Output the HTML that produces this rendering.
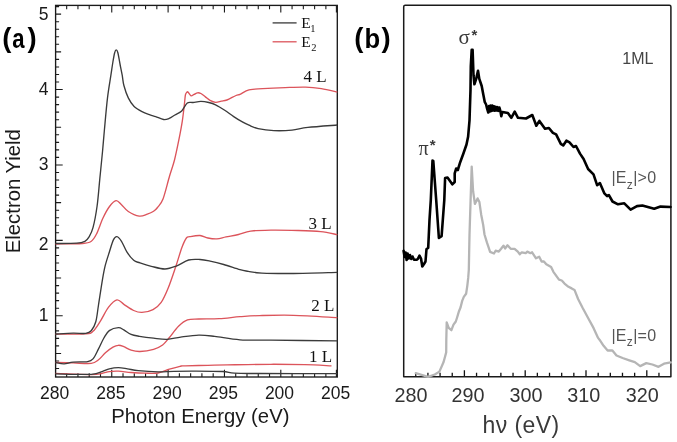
<!DOCTYPE html><html><head><meta charset="utf-8"><style>html,body{margin:0;padding:0;background:#fff;}body{width:677px;height:442px;overflow:hidden;}svg{display:block;filter:blur(0.35px);}text{font-family:"Liberation Sans",sans-serif;}</style></head><body>
<svg width="677" height="442" viewBox="0 0 677 442">
<rect width="677" height="442" fill="#fff"/>
<path d="M55.60,368.53H59.10 M55.60,360.99H59.10 M55.60,353.45H61.10 M55.60,345.91H59.10 M55.60,338.37H59.10 M55.60,330.83H59.10 M55.60,323.29H59.10 M55.60,315.75H62.70 M55.60,308.21H59.10 M55.60,300.67H59.10 M55.60,293.13H59.10 M55.60,285.59H59.10 M55.60,278.05H61.10 M55.60,270.51H59.10 M55.60,262.97H59.10 M55.60,255.43H59.10 M55.60,247.89H59.10 M55.60,240.35H62.70 M55.60,232.81H59.10 M55.60,225.27H59.10 M55.60,217.73H59.10 M55.60,210.19H59.10 M55.60,202.65H61.10 M55.60,195.11H59.10 M55.60,187.57H59.10 M55.60,180.03H59.10 M55.60,172.49H59.10 M55.60,164.95H62.70 M55.60,157.41H59.10 M55.60,149.87H59.10 M55.60,142.33H59.10 M55.60,134.79H59.10 M55.60,127.25H61.10 M55.60,119.71H59.10 M55.60,112.17H59.10 M55.60,104.63H59.10 M55.60,97.09H59.10 M55.60,89.55H62.70 M55.60,82.01H59.10 M55.60,74.47H59.10 M55.60,66.93H59.10 M55.60,59.39H59.10 M55.60,51.85H61.10 M55.60,44.31H59.10 M55.60,36.77H59.10 M55.60,29.23H59.10 M55.60,21.69H59.10 M55.60,14.15H61.10 M55.60,6.61H59.10 M66.67,5.40V9.20 M66.67,377.00V373.20 M77.94,5.40V9.20 M77.94,377.00V373.20 M89.21,5.40V9.20 M89.21,377.00V373.20 M100.48,5.40V9.20 M100.48,377.00V373.20 M111.75,5.40V12.60 M111.75,377.00V369.80 M123.02,5.40V9.20 M123.02,377.00V373.20 M134.29,5.40V9.20 M134.29,377.00V373.20 M145.56,5.40V9.20 M145.56,377.00V373.20 M156.83,5.40V9.20 M156.83,377.00V373.20 M168.10,5.40V12.60 M168.10,377.00V369.80 M179.37,5.40V9.20 M179.37,377.00V373.20 M190.64,5.40V9.20 M190.64,377.00V373.20 M201.91,5.40V9.20 M201.91,377.00V373.20 M213.18,5.40V9.20 M213.18,377.00V373.20 M224.45,5.40V12.60 M224.45,377.00V369.80 M235.72,5.40V9.20 M235.72,377.00V373.20 M246.99,5.40V9.20 M246.99,377.00V373.20 M258.26,5.40V9.20 M258.26,377.00V373.20 M269.53,5.40V9.20 M269.53,377.00V373.20 M280.80,5.40V12.60 M280.80,377.00V369.80 M292.07,5.40V9.20 M292.07,377.00V373.20 M303.34,5.40V9.20 M303.34,377.00V373.20 M314.61,5.40V9.20 M314.61,377.00V373.20 M325.88,5.40V9.20 M325.88,377.00V373.20 M336.40,5.40V12.60 M336.40,377.00V369.80" stroke="#1a1a1a" stroke-width="1.1" fill="none"/>
<rect x="55.60" y="5.40" width="281.70" height="371.60" stroke="#1a1a1a" stroke-width="1.35" fill="none"/>
<path d="M55.60,373.40 C61.53,373.60 83.45,374.60 91.20,374.60 C98.95,374.60 99.08,373.90 102.10,373.40 C105.12,372.90 106.58,371.97 109.30,371.60 C112.02,371.23 114.77,371.05 118.40,371.20 C122.03,371.35 126.67,372.17 131.10,372.50 C135.53,372.83 140.50,373.12 145.00,373.20 C149.50,373.28 154.03,373.67 158.10,373.00 C162.17,372.33 165.75,370.32 169.40,369.20 C173.05,368.08 177.37,366.87 180.00,366.30 C182.63,365.73 180.55,365.97 185.20,365.80 C189.85,365.63 200.88,365.45 207.90,365.30 C214.92,365.15 216.80,365.07 227.30,364.90 C237.80,364.73 257.97,364.33 270.90,364.30 C283.83,364.27 294.80,364.45 304.90,364.70 C315.00,364.95 327.07,365.62 331.50,365.80" stroke="#dc545b" stroke-width="1.35" fill="none" stroke-linejoin="round"/>
<path d="M55.60,373.90 C61.53,373.97 83.45,374.68 91.20,374.30 C98.95,373.92 99.08,372.52 102.10,371.60 C105.12,370.68 106.58,369.47 109.30,368.80 C112.02,368.13 115.37,367.60 118.40,367.60 C121.43,367.60 124.18,368.28 127.50,368.80 C130.82,369.32 133.20,370.18 138.30,370.70 C143.40,371.22 152.17,371.80 158.10,371.90 C164.03,372.00 167.88,371.43 173.90,371.30 C179.92,371.17 186.10,371.07 194.20,371.10 C202.30,371.13 215.80,371.15 222.50,371.50 C229.20,371.85 228.15,372.87 234.40,373.20 C240.65,373.53 242.85,373.43 260.00,373.50 C277.15,373.57 324.42,373.58 337.30,373.60" stroke="#3b3b3b" stroke-width="1.35" fill="none" stroke-linejoin="round"/>
<path d="M55.60,362.50 C58.52,362.57 67.17,362.75 73.10,362.90 C79.03,363.05 86.97,363.92 91.20,363.40 C95.43,362.88 96.08,361.62 98.50,359.80 C100.92,357.98 103.28,354.62 105.70,352.50 C108.12,350.38 110.88,348.30 113.00,347.10 C115.12,345.90 116.60,345.37 118.40,345.30 C120.20,345.23 121.68,345.88 123.80,346.70 C125.92,347.52 128.40,349.40 131.10,350.20 C133.80,351.00 136.25,351.65 140.00,351.50 C143.75,351.35 149.83,350.38 153.60,349.30 C157.37,348.22 159.97,346.97 162.60,345.00 C165.23,343.03 166.75,340.63 169.40,337.50 C172.05,334.37 175.48,329.13 178.50,326.20 C181.52,323.27 184.12,321.10 187.50,319.90 C190.88,318.70 193.52,319.20 198.80,319.00 C204.08,318.80 212.33,319.08 219.20,318.70 C226.07,318.32 233.27,317.22 240.00,316.70 C246.73,316.18 250.67,315.83 259.60,315.60 C268.53,315.37 280.65,314.97 293.60,315.30 C306.55,315.63 330.02,317.22 337.30,317.60" stroke="#dc545b" stroke-width="1.35" fill="none" stroke-linejoin="round"/>
<path d="M55.60,362.50 C57.02,362.72 61.18,363.87 64.10,363.80 C67.02,363.73 69.18,362.47 73.10,362.10 C77.02,361.73 84.28,362.13 87.60,361.60 C90.92,361.07 91.18,361.02 93.00,358.90 C94.82,356.78 96.68,352.38 98.50,348.90 C100.32,345.42 102.10,341.05 103.90,338.00 C105.70,334.95 106.88,332.32 109.30,330.60 C111.72,328.88 115.98,327.82 118.40,327.70 C120.82,327.58 121.68,328.78 123.80,329.90 C125.92,331.02 128.48,333.33 131.10,334.40 C133.72,335.47 135.75,335.67 139.50,336.30 C143.25,336.93 149.00,337.70 153.60,338.20 C158.20,338.70 162.58,339.48 167.10,339.30 C171.62,339.12 175.42,337.78 180.70,337.10 C185.98,336.42 193.13,335.32 198.80,335.20 C204.47,335.08 207.83,335.63 214.70,336.40 C221.57,337.17 230.63,339.17 240.00,339.80 C249.37,340.43 254.68,340.02 270.90,340.20 C287.12,340.38 326.23,340.78 337.30,340.90" stroke="#3b3b3b" stroke-width="1.35" fill="none" stroke-linejoin="round"/>
<path d="M55.60,334.20 C60.50,334.13 78.77,334.28 85.00,333.80 C91.23,333.32 90.38,333.50 93.00,331.30 C95.62,329.10 98.13,324.58 100.70,320.60 C103.27,316.62 105.70,310.85 108.40,307.40 C111.10,303.95 114.27,300.37 116.90,299.90 C119.53,299.43 121.40,302.83 124.20,304.60 C127.00,306.37 130.75,309.20 133.70,310.50 C136.65,311.80 138.68,312.55 141.90,312.40 C145.12,312.25 149.78,311.27 153.00,309.60 C156.22,307.93 158.63,306.08 161.20,302.40 C163.77,298.72 165.97,293.48 168.40,287.50 C170.83,281.52 173.55,273.17 175.80,266.50 C178.05,259.83 180.13,252.25 181.90,247.50 C183.67,242.75 185.08,239.80 186.40,238.00 C187.72,236.20 187.53,237.12 189.80,236.70 C192.07,236.28 196.98,235.28 200.00,235.50 C203.02,235.72 205.08,237.43 207.90,238.00 C210.72,238.57 213.88,239.08 216.90,238.90 C219.92,238.72 222.40,237.63 226.00,236.90 C229.60,236.17 234.40,235.45 238.50,234.50 C242.60,233.55 245.20,231.93 250.60,231.20 C256.00,230.47 262.98,230.22 270.90,230.10 C278.82,229.98 289.80,230.23 298.10,230.50 C306.40,230.77 314.17,231.02 320.70,231.70 C327.23,232.38 334.53,234.12 337.30,234.60" stroke="#dc545b" stroke-width="1.35" fill="none" stroke-linejoin="round"/>
<path d="M55.60,334.00 C58.52,333.87 68.07,333.30 73.10,333.20 C78.13,333.10 82.78,333.80 85.80,333.40 C88.82,333.00 89.53,332.75 91.20,330.80 C92.87,328.85 94.58,326.00 95.80,321.70 C97.02,317.40 97.38,312.07 98.50,305.00 C99.62,297.93 101.38,285.85 102.50,279.30 C103.62,272.75 104.07,270.22 105.20,265.70 C106.33,261.18 107.93,256.50 109.30,252.20 C110.67,247.90 112.13,242.48 113.40,239.90 C114.67,237.32 115.55,236.47 116.90,236.70 C118.25,236.93 119.82,238.72 121.50,241.30 C123.18,243.88 124.97,249.03 127.00,252.20 C129.03,255.37 131.53,258.52 133.70,260.30 C135.87,262.08 137.07,261.90 140.00,262.90 C142.93,263.90 147.15,265.28 151.30,266.30 C155.45,267.32 160.75,269.03 164.90,269.00 C169.05,268.97 172.25,267.60 176.20,266.10 C180.15,264.60 184.63,261.10 188.60,260.00 C192.57,258.90 196.42,259.32 200.00,259.50 C203.58,259.68 206.15,260.27 210.10,261.10 C214.05,261.93 218.72,263.07 223.70,264.50 C228.68,265.93 235.90,268.57 240.00,269.70 C244.10,270.83 244.65,270.73 248.30,271.30 C251.95,271.87 254.35,272.73 261.90,273.10 C269.45,273.47 281.03,273.62 293.60,273.50 C306.17,273.38 330.02,272.58 337.30,272.40" stroke="#3b3b3b" stroke-width="1.35" fill="none" stroke-linejoin="round"/>
<path d="M55.60,244.00 C60.03,243.92 76.30,243.92 82.20,243.50 C88.10,243.08 88.62,243.08 91.00,241.50 C93.38,239.92 94.50,237.92 96.50,234.00 C98.50,230.08 100.83,222.58 103.00,218.00 C105.17,213.42 107.32,209.40 109.50,206.50 C111.68,203.60 114.10,200.90 116.10,200.60 C118.10,200.30 119.47,202.88 121.50,204.70 C123.53,206.52 125.35,209.60 128.30,211.50 C131.25,213.40 136.03,215.65 139.20,216.10 C142.37,216.55 144.90,215.00 147.30,214.20 C149.70,213.40 151.90,212.42 153.60,211.30 C155.30,210.18 155.93,209.55 157.50,207.50 C159.07,205.45 161.00,204.22 163.00,199.00 C165.00,193.78 167.58,182.70 169.50,176.20 C171.42,169.70 172.92,166.17 174.50,160.00 C176.08,153.83 177.70,145.68 179.00,139.20 C180.30,132.72 181.42,126.77 182.30,121.10 C183.18,115.43 183.78,109.55 184.30,105.20 C184.82,100.85 184.97,97.17 185.40,95.00 C185.83,92.83 186.47,92.68 186.90,92.20 C187.33,91.72 187.32,91.50 188.00,92.10 C188.68,92.70 189.98,95.42 191.00,95.80 C192.02,96.18 193.02,94.90 194.10,94.40 C195.18,93.90 196.37,92.95 197.50,92.80 C198.63,92.65 199.58,92.82 200.90,93.50 C202.22,94.18 203.88,95.77 205.40,96.90 C206.92,98.03 208.30,99.40 210.00,100.30 C211.70,101.20 213.72,102.15 215.60,102.30 C217.48,102.45 219.42,101.58 221.30,101.20 C223.18,100.82 224.45,100.95 226.90,100.00 C229.35,99.05 233.82,96.43 236.00,95.50 C238.18,94.57 237.83,95.33 240.00,94.40 C242.17,93.47 245.23,90.85 249.00,89.90 C252.77,88.95 256.57,89.08 262.60,88.70 C268.63,88.32 278.03,87.87 285.20,87.60 C292.37,87.33 299.57,86.92 305.60,87.10 C311.63,87.28 316.12,87.87 321.40,88.70 C326.68,89.53 334.65,91.53 337.30,92.10" stroke="#dc545b" stroke-width="1.35" fill="none" stroke-linejoin="round"/>
<path d="M55.60,243.50 C59.12,243.45 71.82,243.57 76.70,243.20 C81.58,242.83 82.87,242.30 84.90,241.30 C86.93,240.30 87.55,239.47 88.90,237.20 C90.25,234.93 91.63,232.90 93.00,227.70 C94.37,222.50 95.97,214.13 97.10,206.00 C98.23,197.87 98.90,187.95 99.80,178.90 C100.70,169.85 101.73,159.85 102.50,151.70 C103.27,143.55 103.57,138.97 104.40,130.00 C105.23,121.03 106.42,107.03 107.50,97.90 C108.58,88.77 110.00,81.18 110.90,75.20 C111.80,69.22 112.28,65.70 112.90,62.00 C113.52,58.30 114.07,55.02 114.60,53.00 C115.13,50.98 115.57,49.98 116.10,49.90 C116.63,49.82 117.15,50.15 117.80,52.50 C118.45,54.85 119.27,60.22 120.00,64.00 C120.73,67.78 121.55,71.62 122.20,75.20 C122.85,78.78 122.88,81.72 123.90,85.50 C124.92,89.28 126.63,94.45 128.30,97.90 C129.97,101.35 131.62,103.92 133.90,106.20 C136.18,108.48 139.32,110.17 142.00,111.60 C144.68,113.03 147.72,113.97 150.00,114.80 C152.28,115.63 153.43,115.82 155.70,116.60 C157.97,117.38 161.35,119.20 163.60,119.50 C165.85,119.80 167.32,119.15 169.20,118.40 C171.08,117.65 172.82,116.25 174.90,115.00 C176.98,113.75 179.63,112.90 181.70,110.90 C183.77,108.90 185.42,104.40 187.30,103.00 C189.18,101.60 190.73,102.77 193.00,102.50 C195.27,102.23 198.27,101.40 200.90,101.40 C203.53,101.40 206.35,101.93 208.80,102.50 C211.25,103.07 212.95,103.52 215.60,104.80 C218.25,106.08 221.68,108.23 224.70,110.20 C227.72,112.17 230.68,114.60 233.70,116.60 C236.72,118.60 240.25,120.77 242.80,122.20 C245.35,123.63 246.45,124.13 249.00,125.20 C251.55,126.27 253.95,127.70 258.10,128.60 C262.25,129.50 268.25,130.35 273.90,130.60 C279.55,130.85 286.33,130.63 292.00,130.10 C297.67,129.57 300.35,128.25 307.90,127.40 C315.45,126.55 332.40,125.40 337.30,125.00" stroke="#3b3b3b" stroke-width="1.35" fill="none" stroke-linejoin="round"/>
<path d="M272.6,22.9H296.6" stroke="#3a3a3a" stroke-width="1.3"/>
<path d="M272.6,41.8H296.6" stroke="#dc545b" stroke-width="1.3"/>
<text x="301.2" y="27.9" style="font-family:'Liberation Serif',serif" font-size="15.5" fill="#111">E</text>
<text x="310.3" y="31.8" style="font-family:'Liberation Serif',serif" font-size="10.5" fill="#111">1</text>
<text x="301.2" y="47.3" style="font-family:'Liberation Serif',serif" font-size="15.5" fill="#111">E</text>
<text x="311.3" y="51.4" style="font-family:'Liberation Serif',serif" font-size="10.5" fill="#111">2</text>
<text x="303.6" y="82.0" style="font-family:'Liberation Serif',serif" font-size="17" fill="#111">4 L</text>
<text x="308.6" y="228.6" style="font-family:'Liberation Serif',serif" font-size="17" fill="#111">3 L</text>
<text x="311.2" y="310.8" style="font-family:'Liberation Serif',serif" font-size="17" fill="#111">2 L</text>
<text x="309.0" y="362.3" style="font-family:'Liberation Serif',serif" font-size="17" fill="#111">1 L</text>
<text x="48.4" y="20.35" font-size="17.5" text-anchor="end" fill="#1a1a1a">5</text>
<text x="48.4" y="94.70" font-size="17.5" text-anchor="end" fill="#1a1a1a">4</text>
<text x="48.4" y="170.00" font-size="17.5" text-anchor="end" fill="#1a1a1a">3</text>
<text x="48.4" y="249.60" font-size="17.5" text-anchor="end" fill="#1a1a1a">2</text>
<text x="48.4" y="320.50" font-size="17.5" text-anchor="end" fill="#1a1a1a">1</text>
<text x="54.70" y="399.2" font-size="17.5" text-anchor="middle" fill="#1a1a1a">280</text>
<text x="110.90" y="399.2" font-size="17.5" text-anchor="middle" fill="#1a1a1a">285</text>
<text x="167.10" y="399.2" font-size="17.5" text-anchor="middle" fill="#1a1a1a">290</text>
<text x="223.30" y="399.2" font-size="17.5" text-anchor="middle" fill="#1a1a1a">295</text>
<text x="279.50" y="399.2" font-size="17.5" text-anchor="middle" fill="#1a1a1a">200</text>
<text x="335.70" y="399.2" font-size="17.5" text-anchor="middle" fill="#1a1a1a">205</text>
<text x="111.3" y="423.0" font-size="20.3" fill="#1a1a1a">Photon Energy (eV)</text>
<text transform="translate(20.3,253.2) rotate(-90)" x="0" y="0" font-size="20.3" fill="#1a1a1a">Electron Yield</text>
<text x="2.20" y="46.8" font-size="27.5" font-weight="bold" fill="#000">(</text>
<text transform="translate(12.20,47.6) scale(0.82,1)" font-size="27" font-weight="bold" fill="#000">a</text>
<text x="27.40" y="46.8" font-size="27.5" font-weight="bold" fill="#000">)</text>
<text x="354.20" y="46.8" font-size="27.5" font-weight="bold" fill="#000">(</text>
<text transform="translate(364.60,47.6) scale(0.95,1)" font-size="27" font-weight="bold" fill="#000">b</text>
<text x="381.40" y="46.8" font-size="27.5" font-weight="bold" fill="#000">)</text>
<path d="M415.76,376.80V372.80 M427.92,376.80V372.80 M440.08,376.80V372.80 M452.24,376.80V372.80 M464.40,376.80V370.30 M476.56,376.80V372.80 M488.72,376.80V372.80 M500.88,376.80V372.80 M513.04,376.80V372.80 M525.20,376.80V370.30 M537.36,376.80V372.80 M549.52,376.80V372.80 M561.68,376.80V372.80 M573.84,376.80V372.80 M586.00,376.80V370.30 M598.16,376.80V372.80 M610.32,376.80V372.80 M622.48,376.80V372.80 M634.64,376.80V372.80 M646.80,376.80V370.30 M658.96,376.80V372.80" stroke="#111" stroke-width="1.3" fill="none"/>
<path d="M403.70,376.80 V6.70 Q403.70,5.20 405.20,5.20 H669.40 Q670.90,5.20 670.90,6.70 V376.80 Z" stroke="#1a1a1a" stroke-width="1.5" fill="none" stroke-linejoin="round"/>
<path d="M415.70,373.20 L428.10,376.80 L434.80,374.50 L439.40,371.60 L443.60,362.00 L446.20,352.40 L446.30,340.00 L446.70,322.30 L448.70,327.80 L451.40,330.20 L453.50,324.70 L455.80,321.50 L457.10,317.50 L459.00,311.20 L460.60,307.20 L462.20,300.90 L463.80,296.90 L466.10,293.80 L467.30,285.80 L468.20,277.90 L468.80,270.00 L469.50,235.00 L470.60,200.00 L471.70,166.60 L473.10,191.20 L474.90,203.90 L477.60,198.40 L479.40,202.10 L481.20,214.70 L483.20,225.00 L484.50,234.50 L486.90,242.40 L488.00,245.60 L490.10,251.90 L494.00,253.50 L495.60,250.70 L498.80,251.60 L501.10,248.80 L503.50,245.60 L505.10,248.50 L507.50,245.30 L510.70,248.80 L514.60,248.80 L517.80,251.60 L519.80,254.30 L521.80,252.30 L525.70,253.20 L527.30,251.60 L530.50,253.20 L532.10,252.30 L536.00,258.30 L539.20,256.70 L541.60,261.50 L543.90,261.50 L546.30,264.30 L551.10,267.00 L553.40,271.80 L559.00,279.70 L561.80,280.50 L564.50,283.60 L568.50,286.80 L571.70,288.40 L574.50,289.90 L578.10,299.00 L582.70,308.00 L588.10,318.00 L593.50,327.90 L598.10,337.90 L599.50,339.70 L603.60,345.80 L607.60,350.50 L612.40,350.50 L616.50,355.50 L622.60,358.00 L629.30,360.30 L634.80,362.10 L640.20,366.10 L646.30,363.10 L652.40,364.50 L658.50,366.80 L664.00,363.70 L670.80,362.30" stroke="#b5b5b5" stroke-width="2.3" fill="none" stroke-linejoin="round" stroke-linecap="round"/>
<path d="M403.60,250.80 L404.60,257.00 L405.60,252.50 L406.60,260.00 L407.60,253.50 L408.70,258.50 L410.00,255.00 L411.20,259.00 L412.50,256.50 L414.00,259.80 L416.50,259.80 L417.80,259.00 L419.50,255.60 L421.00,258.50 L422.30,266.50 L424.00,264.00 L425.50,261.50 L426.50,249.00 L428.20,248.00 L428.80,235.00 L429.50,220.00 L430.80,200.00 L432.50,160.60 L433.30,161.00 L436.20,200.00 L438.90,238.00 L441.60,236.20 L444.30,200.00 L445.10,178.00 L447.50,177.50 L450.70,182.00 L452.30,184.40 L454.70,182.00 L454.70,173.30 L456.20,168.50 L457.80,170.00 L460.20,162.20 L463.40,153.50 L466.50,144.50 L468.10,136.80 L469.50,120.50 L470.50,90.00 L470.80,66.20 L471.70,49.90 L472.60,49.90 L473.50,75.20 L474.40,84.30 L476.20,78.90 L478.00,70.70 L479.30,78.90 L481.70,86.00 L483.40,95.00 L484.70,101.80 L486.10,104.50 L487.10,108.60 L488.30,112.50 L489.10,106.00 L489.90,111.50 L490.70,105.50 L491.50,111.00 L492.30,105.60 L493.10,110.50 L493.90,106.30 L494.70,110.80 L495.50,106.80 L496.40,110.50 L497.40,107.20 L498.40,110.80 L499.40,107.50 L500.40,111.00 L501.30,116.30 L502.40,112.00 L507.90,113.00 L511.30,117.80 L514.70,111.70 L518.00,117.80 L526.00,118.50 L532.30,115.00 L536.30,125.70 L539.40,120.90 L545.00,128.80 L548.90,128.00 L552.90,132.80 L556.10,134.40 L560.80,143.90 L563.20,145.50 L566.40,140.70 L569.50,142.30 L573.50,147.00 L576.00,146.00 L580.00,153.60 L583.60,159.00 L588.10,169.00 L593.50,174.40 L597.10,185.20 L599.90,183.10 L604.40,193.40 L607.10,196.10 L608.90,195.20 L612.50,201.50 L618.00,204.30 L624.30,203.30 L630.60,209.70 L637.00,206.10 L642.40,205.50 L648.70,207.30 L654.20,208.80 L660.50,206.60 L670.50,207.00" stroke="#000" stroke-width="2.6" fill="none" stroke-linejoin="round" stroke-linecap="round"/>
<text x="410.90" y="401.8" font-size="19.8" text-anchor="middle" fill="#333">280</text>
<text x="467.90" y="401.8" font-size="19.8" text-anchor="middle" fill="#333">290</text>
<text x="525.90" y="401.8" font-size="19.8" text-anchor="middle" fill="#333">300</text>
<text x="583.70" y="401.8" font-size="19.8" text-anchor="middle" fill="#333">310</text>
<text x="642.20" y="401.8" font-size="19.8" text-anchor="middle" fill="#333">320</text>
<text x="482.6" y="433.2" font-size="23" letter-spacing="0.4" fill="#3a3a3a">h&#957; (eV)</text>
<text x="622.3" y="64" font-size="16" fill="#444">1ML</text>
<text x="611.4" y="183.2" font-size="16" letter-spacing="0.2" fill="#555">|E<tspan font-size="12" dy="5.3">z</tspan><tspan dx="0.4" dy="-5.3">|&gt;0</tspan></text>
<text x="611.4" y="340.8" font-size="16" letter-spacing="0.2" fill="#555">|E<tspan font-size="12" dy="5.3">z</tspan><tspan dx="0.4" dy="-5.3">|=0</tspan></text>
<text x="418.4" y="154.6" style="font-family:'Liberation Serif',serif" font-size="20" fill="#3a3a3a">&#960;</text>
<text x="429.8" y="149.6" font-size="15" font-weight="bold" fill="#3a3a3a">*</text>
<text x="458.4" y="43.8" style="font-family:'Liberation Serif',serif" font-size="21" fill="#3a3a3a">&#963;</text>
<text x="471.6" y="39.6" font-size="15" font-weight="bold" fill="#3a3a3a">*</text>
</svg></body></html>
